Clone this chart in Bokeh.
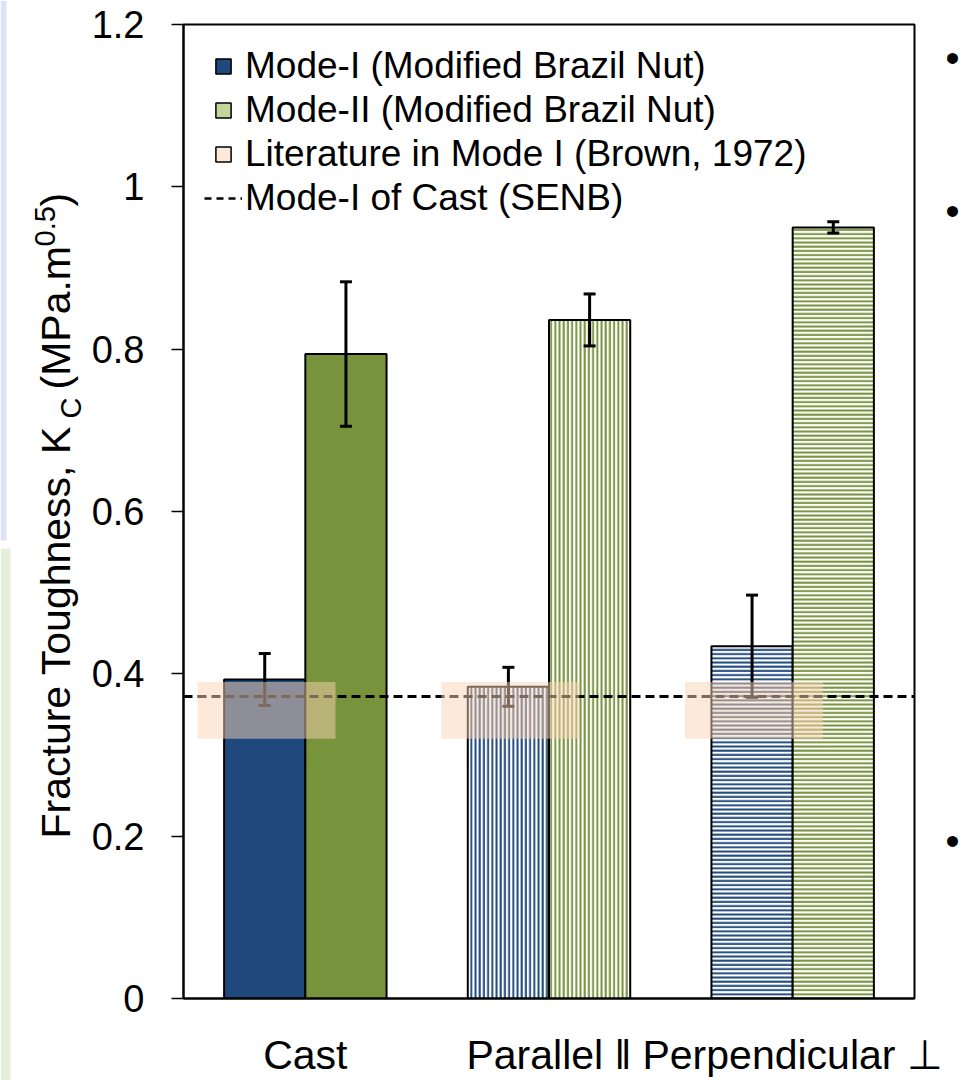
import math
from bokeh.plotting import figure
from bokeh.layouts import row
from bokeh.models import (ColumnDataSource, FactorRange, FixedTicker, Whisker, TeeHead,
                          Span, Legend, LegendItem, Range1d)
from bokeh.core.properties import value
from bokeh.transform import dodge
from bokeh.embed import file_html
from bokeh.resources import INLINE

# ---------------- data ----------------
categories = ["Cast", "Parallel \u2016", "Perpendicular \u22a5"]
mode1 = [0.393, 0.384, 0.434]
mode1_err = [0.032, 0.024, 0.063]
mode2 = [0.794, 0.836, 0.950]
mode2_err = [0.089, 0.032, 0.007]
lit_low = [0.32, 0.32, 0.32]
lit_high = [0.39, 0.39, 0.39]
senb_cast = 0.372
y_ticks = [0, 0.2, 0.4, 0.6, 0.8, 1, 1.2]
y_tick_labels = ["0", "0.2", "0.4", "0.6", "0.8", "1", "1.2"]
hatches = [" ", "|", "-"]
legend_labels = ["Mode-I (Modified Brazil Nut)", "Mode-II (Modified Brazil Nut)",
                 "Literature in Mode I (Brown, 1972)", "Mode-I of Cast (SENB)"]
ylabel_parts = ["Fracture Toughness, K", "C", "(MPa.m", "0.5", ")"]

FONT = "Liberation Sans"
BLUE = "#1F497D"
GREEN = "#77933C"
H = 1080
LEFT_W, MAIN_W, RIGHT_W = 86, 859, 34

fill1 = [BLUE if h == " " else "white" for h in hatches]
fill2 = [GREEN if h == " " else "white" for h in hatches]

src = ColumnDataSource(dict(
    cat=categories, m1=mode1, m2=mode2, hatch=hatches, f1=fill1, f2=fill2,
    m1_up=[v + e for v, e in zip(mode1, mode1_err)],
    m1_lo=[v - e for v, e in zip(mode1, mode1_err)],
    m2_up=[v + e for v, e in zip(mode2, mode2_err)],
    m2_lo=[v - e for v, e in zip(mode2, mode2_err)],
    lit_lo=lit_low, lit_hi=lit_high,
))

p = figure(width=MAIN_W, height=H, output_backend="svg", toolbar_location=None,
           x_range=FactorRange(factors=categories, range_padding=0),
           y_range=(0, 1.2), frame_align=False,
           min_border_left=97, min_border_right=31, min_border_top=24, min_border_bottom=81)
p.background_fill_color = "white"
p.border_fill_color = "white"
p.outline_line_color = "black"
p.outline_line_width = 2
p.grid.visible = False

# bars
p.vbar(x=dodge("cat", -1/6, range=p.x_range), top="m1", width=1/3, source=src,
       fill_color="f1", hatch_pattern="hatch", hatch_color=BLUE, hatch_scale=4.2,
       hatch_weight=2, line_color="black", line_width=2)
p.vbar(x=dodge("cat", 1/6, range=p.x_range), top="m2", width=1/3, source=src,
       fill_color="f2", hatch_pattern="hatch", hatch_color=GREEN, hatch_scale=4.2,
       hatch_weight=2, line_color="black", line_width=2)

# error bars
for key, off in (("m1", -1/6), ("m2", 1/6)):
    w = Whisker(base=dodge("cat", off, range=p.x_range), upper=key + "_up", lower=key + "_lo",
                source=src, line_color="black", line_width=3, level="annotation",
                upper_head=TeeHead(size=12, line_width=3, line_color="black"),
                lower_head=TeeHead(size=12, line_width=3, line_color="black"))
    p.add_layout(w)

# SENB line
p.add_layout(Span(location=senb_cast, dimension="width", line_color="black", line_width=3,
                  line_dash="9 5"))

# literature boxes (semi-transparent, on top)
lit = p.vbar(x=dodge("cat", -0.159, range=p.x_range), top="lit_hi", bottom="lit_lo",
             width=0.566, source=src, fill_color="#FBD3B3", fill_alpha=0.5, line_color=None)
lit.level = "overlay"

# axes
p.yaxis.ticker = FixedTicker(ticks=y_ticks)
p.yaxis.major_label_overrides = {t: l for t, l in zip(y_ticks, y_tick_labels)}
p.yaxis.minor_tick_line_color = None
p.yaxis.major_tick_out = 12
p.yaxis.major_tick_in = 0
p.yaxis.major_tick_line_width = 1.5
p.yaxis.axis_line_width = 2
p.yaxis.major_label_standoff = 27
p.yaxis.major_label_text_font = FONT
p.yaxis.major_label_text_font_size = "38px"
p.yaxis.major_label_text_color = "black"

p.xaxis.major_tick_line_color = None
p.xaxis.minor_tick_line_color = None
p.xaxis.axis_line_width = 2
p.xaxis.major_label_standoff = 27
p.xaxis.major_label_text_font = FONT
p.xaxis.major_label_text_font_size = "41px"
p.xaxis.major_label_text_color = "black"

# legend (legend-only renderers, placed below the visible y range)
hidden = dict(x=[categories[0]], y=[-1.0])
r1 = p.scatter(marker="square", fill_color=BLUE, line_color="black", line_width=1.5, **hidden)
r2 = p.scatter(marker="square", fill_color="#C3D69B", line_color="black", line_width=1.5, **hidden)
r3 = p.scatter(marker="square", fill_color="#FDE9D9", line_color="black", line_width=1.5, **hidden)
r4 = p.line(x=[categories[0], categories[1]], y=[-1.0, -1.0], line_color="black",
            line_width=2.5, line_dash="7 5")
legend = Legend(items=[LegendItem(label=l, renderers=[r]) for l, r in
                       zip(legend_labels, [r1, r2, r3, r4])], location="top_left")
legend.glyph_width = 38
legend.glyph_height = 38
legend.label_height = 38
legend.spacing = 2
legend.label_standoff = 3
legend.margin = 21
legend.padding = 10
legend.background_fill_alpha = 0
legend.border_line_color = None
legend.label_text_font = FONT
legend.label_text_font_size = "37px"
legend.label_text_color = "black"
p.add_layout(legend)

# ---------- side strips (canvas-pixel coordinates) ----------
def blank(width):
    f = figure(width=width, height=H, output_backend="svg", toolbar_location=None,
               x_range=Range1d(0, width), y_range=Range1d(H, 0), frame_align=False,
               min_border=0, min_border_left=0, min_border_right=0,
               min_border_top=0, min_border_bottom=0)
    f.axis.visible = False
    f.grid.visible = False
    f.outline_line_color = None
    f.background_fill_color = "white"
    f.border_fill_color = "white"
    return f

left = blank(LEFT_W)
# slide background remnants at the left edge
left.quad(left=[0, 0], right=[6, 10], top=[0, 548], bottom=[540, H],
          fill_color=["#DCE4F2", "#E5F0DC"], line_color=None)
lab_src = ColumnDataSource(dict(
    x=[55, 70, 55, 44, 55],
    y=[838, 418, 389, 246, 206],
    text=ylabel_parts,
    size=["41px", "29px", "41px", "29px", "41px"],
))
left.text(x="x", y="y", text="text", source=lab_src, angle=math.pi / 2,
          text_font=value(FONT), text_font_size="size", text_color="black",
          text_align="left", text_baseline="alphabetic")

right = blank(RIGHT_W)
right.text(x=[7, 7, 7], y=[57, 210, 840], text=["\u2022"] * 3, text_font=value(FONT),
           text_font_size="40px", text_color="black", text_align="center",
           text_baseline="middle")

layout = row(left, p, right, spacing=0)
open("out.html", "w").write(file_html(layout, INLINE))
